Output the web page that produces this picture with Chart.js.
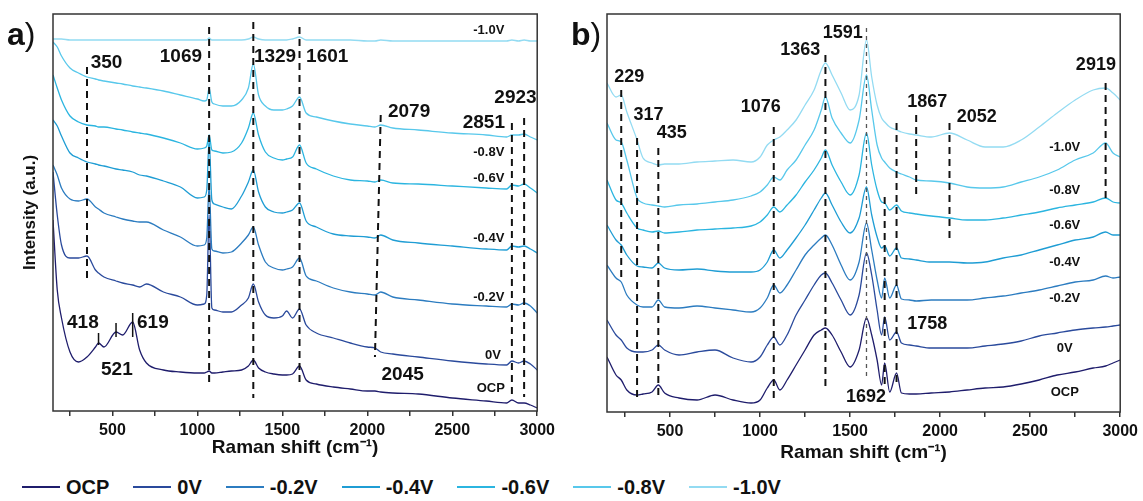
<!DOCTYPE html>
<html>
<head>
<meta charset="utf-8">
<script src="https://cdn.jsdelivr.net/npm/chart.js@4.4.0/dist/chart.umd.min.js"></script>
<style>
  body { margin: 0; background: #fff; width: 1143px; height: 501px; overflow: hidden; position: relative; font-family: "Liberation Sans", Arial, sans-serif; color: #111; }
  canvas { position: absolute; top: 0; }
  #chartA { left: 0; }
  #chartB { left: 560px; }
  .panel { position: absolute; font-size: 32px; font-weight: bold; line-height: 36px; }
  .panel span { font-weight: normal; }
  #legend { position: absolute; left: 22px; top: 476px; display: flex; align-items: center; font-weight: bold; font-size: 20px; line-height: 22px; }
  #legend .item { display: flex; align-items: center; margin-right: 24px; }
  #legend .swatch { width: 38px; height: 2px; margin-right: 6px; }
</style>
</head>
<body>
<canvas id="chartA" width="560" height="475"></canvas>
<canvas id="chartB" width="583" height="475"></canvas>
<div class="panel" style="left:7px;top:16px">a<span>)</span></div>
<div class="panel" style="left:571px;top:16px">b<span>)</span></div>
<div id="legend"></div>
<script>
Chart.defaults.font.family = '"Liberation Sans", Arial, sans-serif';
Chart.defaults.color = '#111';

const seriesNames = ['OCP', '0V', '-0.2V', '-0.4V', '-0.6V', '-0.8V', '-1.0V'];
const seriesColors = ['#1f1d6c', '#2a4a9c', '#2c7cc0', '#1f9dd4', '#2bb5e0', '#58c8eb', '#93dbf2'];
const xTicks = [250, 500, 750, 1000, 1250, 1500, 1750, 2000, 2250, 2500, 2750, 3000];

// panel a) Raman shift grid (cm-1) and intensities (a.u.)
const ramanA = [150, 175, 200, 250, 300, 350, 400, 418, 450, 521, 560, 619, 660, 700, 800, 900, 1000, 1040, 1055, 1069,
  1085, 1100, 1150, 1200, 1260, 1300, 1329, 1360, 1400, 1450, 1500, 1525, 1560, 1601, 1640, 1700, 1800, 1900, 2000, 2045,
  2079, 2150, 2300, 2500, 2700, 2820, 2851, 2890, 2923, 2960, 3000];
const ocpA = [191, 121, 93, 59, 49, 54, 64, 68, 64, 79, 76, 89, 61, 48, 41, 39, 38, 38, 39, 40,
  38, 38, 39, 40, 41, 45, 51, 43, 39, 37, 36, 36, 37, 45, 31, 27, 24, 22, 20, 20,
  19, 18, 17, 13, 10, 8, 11, 8, 8, 6, 3];
const v0A = [239, 196, 166, 153, 153, 155, 141, 138, 134, 130, 128, 126, 124, 127, 119, 114, 106, 107, 116, 196,
  103, 101, 99, 99, 106, 113, 127, 109, 96, 93, 95, 100, 93, 102, 86, 78, 73, 68, 64, 63,
  59, 57, 54, 50, 47, 46, 50, 48, 50, 47, 41];
const vm02A = [246, 236, 223, 212, 210, 212, 204, 202, 198, 194, 192, 190, 189, 189, 181, 174, 165, 166, 173, 226,
  162, 160, 158, 159, 168, 176, 184, 166, 149, 143, 141, 142, 144, 153, 135, 130, 123, 119, 117, 116,
  119, 114, 111, 107, 105, 104, 107, 106, 108, 105, 98];
const vm04A = [291, 285, 275, 258, 253, 249, 247, 246, 245, 242, 241, 239, 236, 235, 230, 224, 213, 214, 221, 271,
  211, 207, 204, 202, 215, 229, 241, 219, 204, 199, 198, 199, 201, 208, 190, 184, 177, 175, 174, 173,
  176, 171, 168, 165, 162, 161, 165, 164, 165, 162, 158];
const vm06A = [336, 323, 311, 295, 289, 286, 285, 284, 284, 282, 281, 279, 278, 277, 273, 268, 262, 263, 265, 276,
  261, 260, 258, 259, 268, 283, 298, 276, 259, 253, 251, 252, 254, 266, 248, 242, 235, 231, 230, 229,
  231, 228, 227, 225, 223, 222, 226, 225, 227, 223, 218];
const vm08A = [369, 364, 355, 343, 338, 334, 332, 331, 330, 328, 327, 325, 324, 323, 320, 316, 312, 310, 311, 323,
  309, 307, 305, 305, 311, 323, 347, 316, 305, 301, 301, 302, 305, 314, 298, 294, 290, 287, 285, 284,
  286, 283, 281, 278, 276, 274, 276, 276, 277, 274, 271];
const vm10A = [372, 372, 372, 371, 371, 371, 371, 371, 371, 371, 371, 371, 371, 371, 371, 371, 371, 371, 371, 373,
  371, 371, 371, 371, 371, 372, 374, 372, 371, 371, 371, 371, 372, 374, 371, 371, 371, 371, 370, 370,
  371, 370, 370, 370, 370, 370, 371, 370, 371, 370, 370];

// panel b)
const ramanB = [150, 200, 229, 260, 317, 350, 400, 435, 470, 550, 650, 750, 850, 950, 1000, 1040, 1076, 1110, 1150, 1200,
  1250, 1300, 1340, 1363, 1400, 1450, 1500, 1550, 1591, 1620, 1650, 1675, 1692, 1720, 1758, 1785, 1830, 1867, 1950, 2052,
  2150, 2250, 2350, 2450, 2550, 2650, 2750, 2850, 2919, 2960, 3000];
const ocpB = [55, 37, 32, 22, 17, 18, 20, 27, 19, 14, 12, 17, 12, 9, 12, 24, 32, 22, 32, 47,
  62, 77, 82, 84, 77, 60, 45, 62, 94, 77, 52, 27, 49, 20, 39, 19, 18, 18, 19, 20,
  22, 24, 25, 28, 32, 37, 40, 44, 46, 49, 52];
const v0B = [92, 77, 72, 64, 60, 60, 62, 67, 62, 57, 60, 62, 54, 50, 55, 67, 75, 67, 77, 97,
  112, 127, 137, 139, 129, 112, 97, 117, 159, 137, 102, 77, 95, 72, 80, 69, 67, 66, 64, 64,
  64, 66, 68, 71, 76, 79, 82, 84, 85, 86, 87];
const vm02B = [147, 134, 130, 117, 107, 105, 105, 112, 105, 104, 106, 104, 102, 100, 104, 114, 127, 119, 127, 142,
  157, 167, 174, 177, 167, 147, 132, 150, 189, 162, 132, 114, 134, 114, 127, 113, 112, 111, 112, 112,
  112, 114, 116, 119, 122, 126, 130, 132, 136, 134, 135];
const vm04B = [187, 172, 167, 157, 146, 145, 144, 149, 144, 142, 143, 141, 140, 140, 142, 150, 162, 154, 162, 174,
  187, 202, 214, 219, 207, 190, 179, 194, 225, 197, 175, 164, 166, 156, 164, 154, 153, 152, 150, 150,
  149, 150, 154, 157, 162, 167, 172, 175, 180, 177, 177];
const vm06B = [232, 212, 209, 199, 184, 182, 180, 181, 179, 180, 182, 183, 184, 186, 190, 197, 205, 200, 207, 217,
  230, 242, 254, 262, 247, 230, 217, 237, 279, 247, 222, 210, 209, 202, 207, 201, 199, 198, 196, 194,
  192, 192, 194, 197, 200, 204, 207, 210, 214, 210, 209];
const vm08B = [289, 272, 270, 252, 214, 209, 207, 206, 205, 207, 208, 210, 212, 216, 220, 227, 235, 232, 242, 252,
  267, 282, 302, 315, 294, 279, 269, 292, 337, 302, 267, 254, 250, 244, 240, 238, 235, 232, 231, 229,
  225, 224, 225, 230, 235, 242, 252, 259, 269, 259, 255];
const vm10B = [329, 315, 317, 300, 272, 254, 249, 247, 248, 248, 250, 251, 252, 250, 255, 267, 272, 275, 282, 292,
  307, 322, 342, 349, 337, 319, 302, 317, 372, 335, 307, 294, 290, 285, 282, 280, 278, 277, 275, 279,
  272, 265, 265, 272, 285, 299, 312, 322, 324, 319, 312];

// dashed peak markers: [shift, top, bottom]
const dashA = [[350, 344, 131], [1069, 384, 26], [1329, 389, 13], [1601, 384, 26], [2851, 288, 14], [2923, 293, 14]];
const slantA = [[2079, 296], [2045, 54]];
const tickA = [[418, 78, 66], [521, 88, 74], [619, 98, 74]];
const dashB = [[229, 322, 132], [317, 274, 12], [435, 264, 12], [1076, 285, 9], [1363, 357, 25], [1692, 215, 25],
  [1758, 289, 25], [1867, 297, 215], [2052, 289, 174], [2919, 329, 212]];
const fineB = [[1591, 384, 35]];

// text marks: [text, shift, intensity]
const peaksA = [['350', 465, 348], ['1069', 903, 354], ['1329', 1457, 354], ['1601', 1764, 354], ['2079', 2246, 299],
  ['2851', 2686, 288], ['2923', 2872, 313], ['418', 326, 88], ['521', 526, 41], ['619', 738, 88], ['2045', 2208, 36]];
const tagsA = [['-1.0V', 2715, 381], ['-0.8V', 2715, 259], ['-0.6V', 2715, 233], ['-0.4V', 2715, 173],
  ['-0.2V', 2715, 114], ['0V', 2739, 56], ['OCP', 2727, 23]];
const peaksB = [['229', 274, 335], ['317', 381, 297], ['435', 510, 279], ['1076', 1004, 305], ['1363', 1223, 362],
  ['1591', 1459, 379], ['1867', 1929, 310], ['2052', 2203, 295], ['2919', 2865, 347], ['1758', 1929, 88], ['1692', 1588, 15]];
const tagsB = [['-1.0V', 2692, 265], ['-0.8V', 2692, 222], ['-0.6V', 2692, 187], ['-0.4V', 2692, 150],
  ['-0.2V', 2692, 114], ['0V', 2692, 64], ['OCP', 2692, 20]];

function spectrum(grid, values, color) {
  return {
    data: grid.map((x, i) => ({ x: x, y: values[i] })),
    borderColor: color, borderWidth: 1.3, pointRadius: 0,
    cubicInterpolationMode: 'monotone', fill: false
  };
}

function marker(x1, y1, x2, y2, dash, width, color) {
  return {
    data: [{ x: x1, y: y1 }, { x: x2, y: y2 }],
    borderColor: color || '#111', borderWidth: width, borderDash: dash, pointRadius: 0
  };
}

const framePlugin = {
  id: 'frame',
  afterDraw(chart, args, opts) {
    const { ctx, chartArea: a, scales: { x, y } } = chart;
    ctx.save();
    ctx.strokeStyle = '#333';
    ctx.lineWidth = 1.5;
    ctx.strokeRect(a.left, a.top, a.right - a.left, a.bottom - a.top);
    ctx.fillStyle = '#111';
    ctx.textAlign = 'center';
    ctx.textBaseline = 'middle';
    ctx.font = 'bold ' + opts.peakSize + 'px "Liberation Sans", Arial, sans-serif';
    opts.peaks.forEach(p => ctx.fillText(p[0], x.getPixelForValue(p[1]), y.getPixelForValue(p[2])));
    ctx.font = 'bold 13px "Liberation Sans", Arial, sans-serif';
    opts.tags.forEach(p => ctx.fillText(p[0], x.getPixelForValue(p[1]), y.getPixelForValue(p[2])));
    ctx.restore();
  }
};

function makeChart(id, datasets, yMax, yWidth, xHeight, rightPad, titleBottom, yTitle, peaks, tags, peakSize) {
  return new Chart(document.getElementById(id), {
    type: 'line',
    data: { datasets: datasets },
    plugins: [framePlugin],
    options: {
      responsive: false,
      animation: false,
      layout: { padding: { left: 0, right: rightPad, top: 14, bottom: 0 } },
      plugins: {
        legend: { display: false },
        tooltip: { enabled: false },
        frame: { peaks: peaks, tags: tags, peakSize: peakSize }
      },
      scales: {
        x: {
          type: 'linear', min: 150, max: 3000,
          afterBuildTicks: s => { s.ticks = xTicks.map(v => ({ value: v })); },
          afterFit: s => { s.height = xHeight; },
          ticks: {
            callback: v => (v % 500 === 0 ? String(v) : ''),
            font: { size: 16, weight: 'bold' }, color: '#111',
            padding: 5, maxRotation: 0, autoSkip: false
          },
          grid: { display: true, drawOnChartArea: false, drawTicks: true, tickLength: 5, color: '#333', lineWidth: 1.5 },
          border: { display: false },
          title: {
            display: true, text: 'Raman shift (cm⁻¹)', color: '#111',
            font: { size: 19, weight: 'bold' }, padding: { top: 0, bottom: titleBottom }
          }
        },
        y: {
          type: 'linear', min: 0, max: yMax,
          afterFit: s => { s.width = yWidth; },
          ticks: { display: false },
          grid: { display: false },
          border: { display: false },
          title: {
            display: yTitle, text: 'Intensity (a.u.)', color: '#111',
            font: { size: 17, weight: 'bold' }, padding: { top: 20, bottom: 0 }
          }
        }
      }
    }
  });
}

const markersA = dashA.map(d => marker(d[0], d[1], d[0], d[2], [7, 5], 2))
  .concat([marker(slantA[0][0], slantA[0][1], slantA[1][0], slantA[1][1], [7, 5], 2)])
  .concat(tickA.map(d => marker(d[0], d[1], d[0], d[2], [], 1.5)));
const valuesA = [ocpA, v0A, vm02A, vm04A, vm06A, vm08A, vm10A];
const datasetsA = markersA.concat(valuesA.map((v, i) => spectrum(ramanA, v, seriesColors[i])));

const markersB = dashB.map(d => marker(d[0], d[1], d[0], d[2], [7, 5], 2))
  .concat(fineB.map(d => marker(d[0], d[1], d[0], d[2], [4, 4], 1.3, '#555')));
const valuesB = [ocpB, v0B, vm02B, vm04B, vm06B, vm08B, vm10B];
const datasetsB = markersB.concat(valuesB.map((v, i) => spectrum(ramanB, v, seriesColors[i])));

makeChart('chartA', datasetsA, 397, 53, 64, 16, 16, true, peaksA, tagsA, 19);
makeChart('chartB', datasetsB, 398, 47, 63, 17, 11, false, peaksB, tagsB, 18);

const legend = document.getElementById('legend');
seriesNames.forEach((name, i) => {
  const item = document.createElement('div');
  item.className = 'item';
  const sw = document.createElement('span');
  sw.className = 'swatch';
  sw.style.background = seriesColors[i];
  const label = document.createElement('span');
  label.textContent = name;
  item.appendChild(sw);
  item.appendChild(label);
  legend.appendChild(item);
});
</script>
</body>
</html>
